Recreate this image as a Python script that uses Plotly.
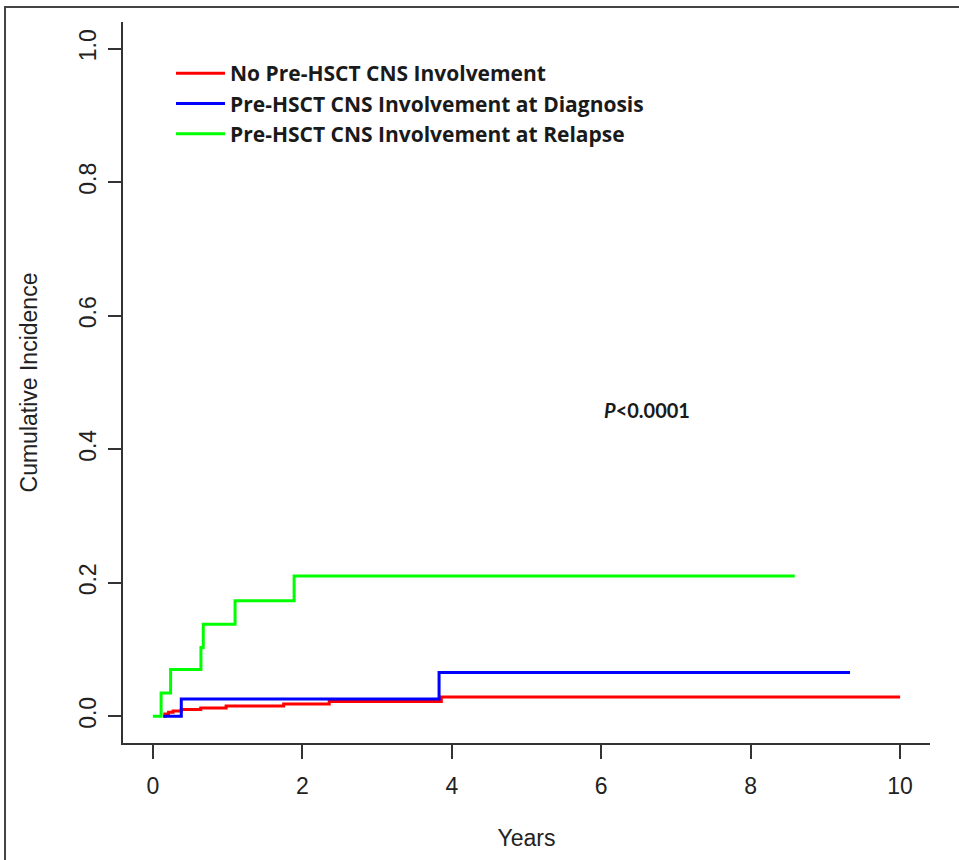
import plotly.graph_objects as go

# Step-function cumulative incidence data (x = years, y = cumulative incidence)
red_x = [0.14, 0.16, 0.21, 0.27, 0.38, 0.64, 0.98, 1.75, 2.36, 3.86, 10.0]
red_y = [0.0, 0.0035, 0.006, 0.008, 0.010, 0.0125, 0.0155, 0.0185, 0.022, 0.029, 0.029]

blue_x = [0.14, 0.38, 3.83, 9.33]
blue_y = [0.0, 0.026, 0.0655, 0.0655]

green_x = [0.0, 0.11, 0.237, 0.643, 0.674, 1.10, 1.89, 8.59]
green_y = [0.0, 0.035, 0.070, 0.103, 0.138, 0.173, 0.210, 0.210]

names = ["No Pre-HSCT CNS Involvement",
         "Pre-HSCT CNS Involvement at Diagnosis",
         "Pre-HSCT CNS Involvement at Relapse"]
colors = ["#ff0000", "#0000ff", "#00ff00"]

x_ticks = [0, 2, 4, 6, 8, 10]
y_ticks = [0.0, 0.2, 0.4, 0.6, 0.8, 1.0]
y_tick_text = ["0.0", "0.2", "0.4", "0.6", "0.8", "1.0"]

p_text = "<b><i>P</i><0.0001</b>"
p_pos = (6.61, 0.459)

fig = go.Figure()
for xs, ys, nm, c in zip([red_x, blue_x, green_x], [red_y, blue_y, green_y], names, colors):
    fig.add_trace(go.Scatter(x=xs, y=ys, mode="lines", name="<b>" + nm + "</b>",
                             line=dict(color=c, width=3, shape="hv")))

tick_font = dict(family="Liberation Sans, Arial", size=23, color="#222")

fig.update_layout(
    width=959, height=860,
    margin=dict(l=123, r=29, t=22, b=117),
    paper_bgcolor="white", plot_bgcolor="white",
    showlegend=True,
    legend=dict(x=0.0595, y=0.957, xanchor="left", yanchor="top",
                font=dict(family="Open Sans, Lato, sans-serif", size=21, color="#1a1a1a"),
                bgcolor="rgba(0,0,0,0)", itemwidth=49, tracegroupgap=0),
    xaxis=dict(range=[-0.4, 10.4], tickvals=x_ticks, showgrid=False, zeroline=False,
               showline=True, linecolor="#333", linewidth=1.5,
               ticks="outside", ticklen=14, tickwidth=1.5, tickcolor="#333",
               tickfont=tick_font, ticklabelstandoff=8,
               title=dict(text="Years", font=tick_font, standoff=32)),
    yaxis=dict(range=[-0.04, 1.04], tickvals=y_ticks, ticktext=y_tick_text,
               showgrid=False, zeroline=False,
               showline=True, linecolor="#333", linewidth=1.5,
               ticks="outside", ticklen=13, tickwidth=1.5, tickcolor="#333",
               tickangle=-90, tickfont=tick_font, ticklabelstandoff=3,
               title=dict(text="Cumulative Incidence", font=tick_font, standoff=31)),
)

fig.add_annotation(x=p_pos[0], y=p_pos[1], text=p_text, showarrow=False,
                   font=dict(family="Lato, Noto Sans, sans-serif", size=20, color="#1a1a1a"))

# outer frame around the figure
fig.add_shape(type="rect", xref="paper", yref="paper",
              x0=-0.1462, x1=1.043, y0=-0.176, y1=1.0208,
              line=dict(color="#444", width=2), fillcolor="rgba(0,0,0,0)", layer="below")

fig.write_html("out.html", config={"displayModeBar": False},
               post_script="document.body.style.margin='0';")
